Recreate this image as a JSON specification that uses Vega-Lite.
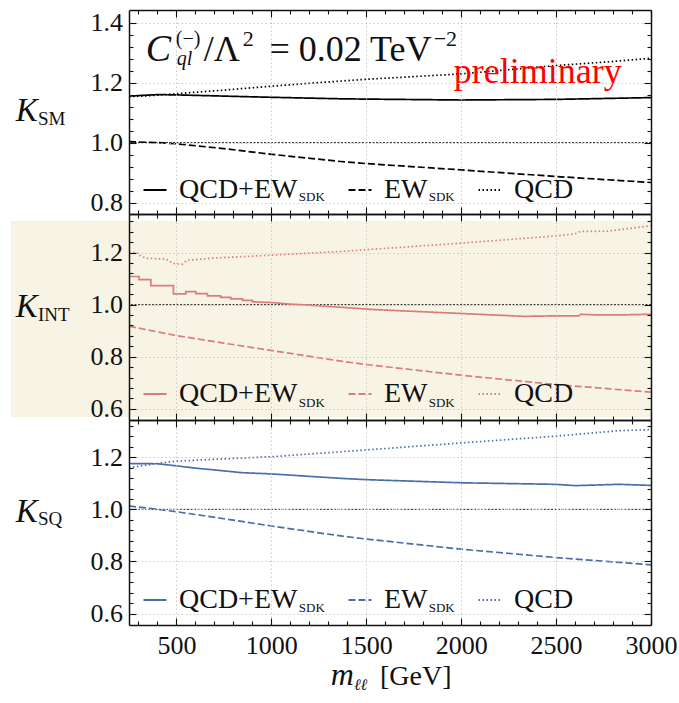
{
  "$schema": "https://vega.github.io/schema/vega-lite/v6.json",
  "background": "white",
  "padding": {"left": 10, "top": 9, "right": 2, "bottom": 5},
  "config": {"view": {"stroke": null}, "font": "Liberation Serif, Times New Roman, serif", "text": {"font": "Liberation Serif, Times New Roman, serif"}},
  "datasets": {
    "sm": [
      {"m": 250, "K": 1.155, "s": "QCD+EW"}, {"m": 400, "K": 1.16, "s": "QCD+EW"}, {"m": 500, "K": 1.159, "s": "QCD+EW"}, {"m": 750, "K": 1.155, "s": "QCD+EW"}, {"m": 1000, "K": 1.151, "s": "QCD+EW"}, {"m": 1365, "K": 1.146, "s": "QCD+EW"}, {"m": 1500, "K": 1.145, "s": "QCD+EW"}, {"m": 2000, "K": 1.142, "s": "QCD+EW"}, {"m": 2500, "K": 1.144, "s": "QCD+EW"}, {"m": 3000, "K": 1.15, "s": "QCD+EW"},
      {"m": 250, "K": 1.003, "s": "EW"}, {"m": 400, "K": 1.0, "s": "EW"}, {"m": 500, "K": 0.996, "s": "EW"}, {"m": 750, "K": 0.98, "s": "EW"}, {"m": 1000, "K": 0.961, "s": "EW"}, {"m": 1365, "K": 0.937, "s": "EW"}, {"m": 1500, "K": 0.93, "s": "EW"}, {"m": 2000, "K": 0.909, "s": "EW"}, {"m": 2500, "K": 0.887, "s": "EW"}, {"m": 3000, "K": 0.867, "s": "EW"},
      {"m": 250, "K": 1.153, "s": "QCD"}, {"m": 400, "K": 1.158, "s": "QCD"}, {"m": 500, "K": 1.163, "s": "QCD"}, {"m": 750, "K": 1.175, "s": "QCD"}, {"m": 1000, "K": 1.188, "s": "QCD"}, {"m": 1250, "K": 1.2, "s": "QCD"}, {"m": 1500, "K": 1.211, "s": "QCD"}, {"m": 2000, "K": 1.229, "s": "QCD"}, {"m": 2500, "K": 1.257, "s": "QCD"}, {"m": 2750, "K": 1.268, "s": "QCD"}, {"m": 3000, "K": 1.281, "s": "QCD"}
    ],
    "int": [
      {"m": 250, "K": 1.108, "s": "QCD+EW"}, {"m": 303, "K": 1.108, "s": "QCD+EW"}, {"m": 303, "K": 1.096, "s": "QCD+EW"}, {"m": 365, "K": 1.096, "s": "QCD+EW"}, {"m": 365, "K": 1.073, "s": "QCD+EW"}, {"m": 484, "K": 1.073, "s": "QCD+EW"}, {"m": 484, "K": 1.041, "s": "QCD+EW"}, {"m": 549, "K": 1.041, "s": "QCD+EW"}, {"m": 549, "K": 1.05, "s": "QCD+EW"}, {"m": 602, "K": 1.05, "s": "QCD+EW"}, {"m": 602, "K": 1.042, "s": "QCD+EW"}, {"m": 663, "K": 1.042, "s": "QCD+EW"}, {"m": 663, "K": 1.034, "s": "QCD+EW"}, {"m": 733, "K": 1.034, "s": "QCD+EW"}, {"m": 733, "K": 1.028, "s": "QCD+EW"}, {"m": 786, "K": 1.028, "s": "QCD+EW"}, {"m": 786, "K": 1.022, "s": "QCD+EW"}, {"m": 848, "K": 1.022, "s": "QCD+EW"}, {"m": 848, "K": 1.016, "s": "QCD+EW"}, {"m": 900, "K": 1.016, "s": "QCD+EW"}, {"m": 900, "K": 1.011, "s": "QCD+EW"}, {"m": 1000, "K": 1.008, "s": "QCD+EW"}, {"m": 1100, "K": 1.002, "s": "QCD+EW"}, {"m": 1154, "K": 1.0, "s": "QCD+EW"}, {"m": 1365, "K": 0.99, "s": "QCD+EW"}, {"m": 1540, "K": 0.981, "s": "QCD+EW"}, {"m": 2000, "K": 0.966, "s": "QCD+EW"}, {"m": 2330, "K": 0.955, "s": "QCD+EW"}, {"m": 2500, "K": 0.957, "s": "QCD+EW"}, {"m": 2620, "K": 0.957, "s": "QCD+EW"}, {"m": 2628, "K": 0.963, "s": "QCD+EW"}, {"m": 2700, "K": 0.961, "s": "QCD+EW"}, {"m": 2875, "K": 0.961, "s": "QCD+EW"}, {"m": 3000, "K": 0.963, "s": "QCD+EW"},
      {"m": 250, "K": 0.917, "s": "EW"}, {"m": 500, "K": 0.881, "s": "EW"}, {"m": 750, "K": 0.852, "s": "EW"}, {"m": 1000, "K": 0.824, "s": "EW"}, {"m": 1365, "K": 0.783, "s": "EW"}, {"m": 1500, "K": 0.77, "s": "EW"}, {"m": 2000, "K": 0.729, "s": "EW"}, {"m": 2500, "K": 0.693, "s": "EW"}, {"m": 3000, "K": 0.664, "s": "EW"},
      {"m": 250, "K": 1.2, "s": "QCD"}, {"m": 300, "K": 1.198, "s": "QCD"}, {"m": 303, "K": 1.19, "s": "QCD"}, {"m": 340, "K": 1.178, "s": "QCD"}, {"m": 445, "K": 1.175, "s": "QCD"}, {"m": 484, "K": 1.158, "s": "QCD"}, {"m": 530, "K": 1.155, "s": "QCD"}, {"m": 555, "K": 1.17, "s": "QCD"}, {"m": 700, "K": 1.179, "s": "QCD"}, {"m": 1000, "K": 1.19, "s": "QCD"}, {"m": 1365, "K": 1.204, "s": "QCD"}, {"m": 1540, "K": 1.213, "s": "QCD"}, {"m": 2000, "K": 1.236, "s": "QCD"}, {"m": 2500, "K": 1.264, "s": "QCD"}, {"m": 2600, "K": 1.272, "s": "QCD"}, {"m": 2628, "K": 1.281, "s": "QCD"}, {"m": 2770, "K": 1.282, "s": "QCD"}, {"m": 3000, "K": 1.303, "s": "QCD"}
    ],
    "sq": [
      {"m": 250, "K": 1.176, "s": "QCD+EW"}, {"m": 400, "K": 1.175, "s": "QCD+EW"}, {"m": 500, "K": 1.167, "s": "QCD+EW"}, {"m": 602, "K": 1.158, "s": "QCD+EW"}, {"m": 733, "K": 1.149, "s": "QCD+EW"}, {"m": 840, "K": 1.141, "s": "QCD+EW"}, {"m": 1000, "K": 1.136, "s": "QCD+EW"}, {"m": 1365, "K": 1.119, "s": "QCD+EW"}, {"m": 1500, "K": 1.114, "s": "QCD+EW"}, {"m": 2000, "K": 1.102, "s": "QCD+EW"}, {"m": 2500, "K": 1.096, "s": "QCD+EW"}, {"m": 2600, "K": 1.091, "s": "QCD+EW"}, {"m": 2830, "K": 1.096, "s": "QCD+EW"}, {"m": 3000, "K": 1.092, "s": "QCD+EW"},
      {"m": 250, "K": 1.013, "s": "EW"}, {"m": 400, "K": 1.0, "s": "EW"}, {"m": 500, "K": 0.991, "s": "EW"}, {"m": 750, "K": 0.964, "s": "EW"}, {"m": 1000, "K": 0.936, "s": "EW"}, {"m": 1365, "K": 0.898, "s": "EW"}, {"m": 1500, "K": 0.886, "s": "EW"}, {"m": 2000, "K": 0.847, "s": "EW"}, {"m": 2500, "K": 0.815, "s": "EW"}, {"m": 3000, "K": 0.787, "s": "EW"},
      {"m": 250, "K": 1.16, "s": "QCD"}, {"m": 400, "K": 1.176, "s": "QCD"}, {"m": 500, "K": 1.185, "s": "QCD"}, {"m": 750, "K": 1.194, "s": "QCD"}, {"m": 1000, "K": 1.202, "s": "QCD"}, {"m": 1365, "K": 1.221, "s": "QCD"}, {"m": 1500, "K": 1.228, "s": "QCD"}, {"m": 2000, "K": 1.255, "s": "QCD"}, {"m": 2500, "K": 1.281, "s": "QCD"}, {"m": 2830, "K": 1.302, "s": "QCD"}, {"m": 3000, "K": 1.306, "s": "QCD"}
    ]
  },
  "vconcat": [
    {
      "width": 522, "height": 204,
      "data": {"values": [{}]},
      "resolve": {"axis": {"x": "independent", "y": "independent"}},
      "layer": [
        {"mark": {"type": "rule", "color": "#111", "strokeWidth": 0.9, "strokeDash": [2, 1.5]},
         "encoding": {"y": {"datum": 1, "type": "quantitative", "scale": {"domain": [0.762, 1.442]}, "axis": null}}},
        {"data": {"name": "sm"},
         "mark": {"type": "line", "color": "#000000", "strokeWidth": 1.7},
         "encoding": {
           "x": {"field": "m", "type": "quantitative", "scale": {"domain": [250, 3000]},
             "axis": {"orient": "bottom", "values": [300,400,500,600,700,800,900,1000,1100,1200,1300,1400,1500,1600,1700,1800,1900,2000,2100,2200,2300,2400,2500,2600,2700,2800,2900,3000], "format": "d", "zindex": 1, "title": null, "domainColor": "#111", "domainWidth": 1.5, "tickColor": "#111", "tickWidth": 1.1, "tickSize": {"condition": {"test": "datum.value % 500 === 0", "value": -7}, "value": -4}, "grid": true, "gridColor": "#c4c4c4", "gridDash": [1.5, 2.5], "gridWidth": 0.9, "gridOpacity": {"condition": {"test": "datum.value % 500 === 0", "value": 1}, "value": 0}, "labels": false}},
           "y": {"field": "K", "type": "quantitative", "scale": {"domain": [0.762, 1.442]},
             "axis": {"orient": "left", "values": [0.8,0.84,0.88,0.92,0.96,1,1.04,1.08,1.12,1.16,1.2,1.24,1.28,1.32,1.36,1.4], "format": ".1f", "zindex": 1, "title": null, "domainColor": "#111", "domainWidth": 1.5, "tickColor": "#111", "tickWidth": 1.1, "tickSize": {"condition": {"test": "abs(datum.value*5-round(datum.value*5))<0.001", "value": -7}, "value": -4}, "grid": true, "gridColor": "#c4c4c4", "gridDash": [1.5, 2.5], "gridWidth": 0.9, "gridOpacity": {"condition": {"test": "abs(datum.value*5-round(datum.value*5))<0.001", "value": 1}, "value": 0}, "labelExpr": "abs(datum.value*5-round(datum.value*5))<0.001 ? datum.label : ''", "labelFont": "Liberation Serif, Times New Roman, serif", "labelFontSize": 26, "labelColor": "#111", "labelPadding": 13.5, "labelOverlap": false}},
           "strokeDash": {"field": "s", "type": "nominal", "scale": {"domain": ["QCD+EW", "EW", "QCD"], "range": [[1, 0], [7, 3], [1.5, 2.5]]},
             "legend": {"orient": "none", "legendX": 12, "legendY": 166, "direction": "horizontal", "title": null, "padding": 0, "symbolType": "stroke", "symbolSize": 529, "symbolStrokeWidth": 1.8, "symbolStrokeColor": "#000000", "labelFont": "Liberation Serif, Times New Roman, serif", "labelFontSize": 28, "labelColor": "#111", "labelOffset": 10, "columnPadding": 46}},
           "order": {"value": null}
         }},
        {"mark": {"type": "text", "text": "K", "fontStyle": "italic", "fontSize": 33, "align": "left", "baseline": "alphabetic", "color": "#111"},
         "encoding": {
           "x": {"datum": -346, "type": "quantitative", "scale": {"domain": [250, 3000]},
             "axis": {"orient": "top", "values": [300,400,500,600,700,800,900,1000,1100,1200,1300,1400,1500,1600,1700,1800,1900,2000,2100,2200,2300,2400,2500,2600,2700,2800,2900,3000], "zindex": 1, "title": null, "domainColor": "#111", "domainWidth": 1.5, "tickColor": "#111", "tickWidth": 1.1, "tickSize": {"condition": {"test": "datum.value % 500 === 0", "value": -7}, "value": -4}, "grid": false, "labels": false}},
           "y": {"datum": 1.072, "type": "quantitative", "scale": {"domain": [0.762, 1.442]},
             "axis": {"orient": "right", "values": [0.8,0.84,0.88,0.92,0.96,1,1.04,1.08,1.12,1.16,1.2,1.24,1.28,1.32,1.36,1.4], "zindex": 1, "title": null, "domainColor": "#111", "domainWidth": 1.5, "tickColor": "#111", "tickWidth": 1.1, "tickSize": {"condition": {"test": "abs(datum.value*5-round(datum.value*5))<0.001", "value": -7}, "value": -4}, "grid": false, "labels": false}}
         }},
        {"mark": {"type": "text", "text": "SM", "fontSize": 19, "align": "left", "baseline": "alphabetic", "color": "#111"},
         "encoding": {"x": {"datum": -230, "type": "quantitative", "scale": {"domain": [250, 3000]}, "axis": null}, "y": {"datum": 1.0587, "type": "quantitative", "scale": {"domain": [0.762, 1.442]}, "axis": null}}},
        {"mark": {"type": "text", "text": "C", "fontStyle": "italic", "fontSize": 38, "align": "left", "baseline": "alphabetic", "color": "#111"},
         "encoding": {"x": {"datum": 338.5, "type": "quantitative", "scale": {"domain": [250, 3000]}, "axis": null}, "y": {"datum": 1.273, "type": "quantitative", "scale": {"domain": [0.762, 1.442]}, "axis": null}}},
        {"mark": {"type": "text", "text": "(−)", "fontSize": 20, "align": "left", "baseline": "alphabetic", "color": "#111"},
         "encoding": {"x": {"datum": 496.5, "type": "quantitative", "scale": {"domain": [250, 3000]}, "axis": null}, "y": {"datum": 1.3253, "type": "quantitative", "scale": {"domain": [0.762, 1.442]}, "axis": null}}},
        {"mark": {"type": "text", "text": "ql", "fontStyle": "italic", "fontSize": 20, "align": "left", "baseline": "alphabetic", "color": "#111"},
         "encoding": {"x": {"datum": 501.8, "type": "quantitative", "scale": {"domain": [250, 3000]}, "axis": null}, "y": {"datum": 1.2587, "type": "quantitative", "scale": {"domain": [0.762, 1.442]}, "axis": null}}},
        {"mark": {"type": "text", "text": "/Λ", "fontSize": 36, "align": "left", "baseline": "alphabetic", "color": "#111"},
         "encoding": {"x": {"datum": 644, "type": "quantitative", "scale": {"domain": [250, 3000]}, "axis": null}, "y": {"datum": 1.273, "type": "quantitative", "scale": {"domain": [0.762, 1.442]}, "axis": null}}},
        {"mark": {"type": "text", "text": "2", "fontSize": 22, "align": "left", "baseline": "alphabetic", "color": "#111"},
         "encoding": {"x": {"datum": 849.5, "type": "quantitative", "scale": {"domain": [250, 3000]}, "axis": null}, "y": {"datum": 1.322, "type": "quantitative", "scale": {"domain": [0.762, 1.442]}, "axis": null}}},
        {"mark": {"type": "text", "text": "= 0.02 TeV", "fontSize": 36, "align": "left", "baseline": "alphabetic", "color": "#111"},
         "encoding": {"x": {"datum": 990, "type": "quantitative", "scale": {"domain": [250, 3000]}, "axis": null}, "y": {"datum": 1.273, "type": "quantitative", "scale": {"domain": [0.762, 1.442]}, "axis": null}}},
        {"mark": {"type": "text", "text": "−2", "fontSize": 22, "align": "left", "baseline": "alphabetic", "color": "#111"},
         "encoding": {"x": {"datum": 1855, "type": "quantitative", "scale": {"domain": [250, 3000]}, "axis": null}, "y": {"datum": 1.322, "type": "quantitative", "scale": {"domain": [0.762, 1.442]}, "axis": null}}},
        {"mark": {"type": "text", "text": "preliminary", "fontSize": 36, "align": "left", "baseline": "alphabetic", "color": "#ff0000"},
         "encoding": {"x": {"datum": 1961, "type": "quantitative", "scale": {"domain": [250, 3000]}, "axis": null}, "y": {"datum": 1.1977, "type": "quantitative", "scale": {"domain": [0.762, 1.442]}, "axis": null}}},
        {"mark": {"type": "text", "text": "SDK", "fontSize": 13, "align": "left", "baseline": "alphabetic", "color": "#111"},
         "encoding": {"x": {"datum": 1144.5, "type": "quantitative", "scale": {"domain": [250, 3000]}, "axis": null}, "y": {"datum": 0.8053, "type": "quantitative", "scale": {"domain": [0.762, 1.442]}, "axis": null}}},
        {"mark": {"type": "text", "text": "SDK", "fontSize": 13, "align": "left", "baseline": "alphabetic", "color": "#111"},
         "encoding": {"x": {"datum": 1829, "type": "quantitative", "scale": {"domain": [250, 3000]}, "axis": null}, "y": {"datum": 0.8053, "type": "quantitative", "scale": {"domain": [0.762, 1.442]}, "axis": null}}}
      ]
    },
    {
      "width": 522, "height": 206,
      "data": {"values": [{}]},
      "resolve": {"axis": {"x": "independent", "y": "independent"}},
      "layer": [
        {"mark": {"type": "rect", "color": "#f7f4e6"},
         "encoding": {"x": {"datum": -372, "type": "quantitative", "scale": {"domain": [250, 3000]}, "axis": null}, "x2": {"datum": 3000}, "y": {"datum": 0.5685, "type": "quantitative", "scale": {"domain": [0.557, 1.348]}, "axis": null}, "y2": {"datum": 1.321}}},
        {"mark": {"type": "rule", "color": "#111", "strokeWidth": 0.9, "strokeDash": [2, 1.5]},
         "encoding": {"y": {"datum": 1, "type": "quantitative", "scale": {"domain": [0.557, 1.348]}, "axis": null}}},
        {"data": {"name": "int"},
         "mark": {"type": "line", "color": "#db7c7c", "strokeWidth": 1.7},
         "encoding": {
           "x": {"field": "m", "type": "quantitative", "scale": {"domain": [250, 3000]},
             "axis": {"orient": "bottom", "values": [300,400,500,600,700,800,900,1000,1100,1200,1300,1400,1500,1600,1700,1800,1900,2000,2100,2200,2300,2400,2500,2600,2700,2800,2900,3000], "format": "d", "zindex": 1, "title": null, "domainColor": "#111", "domainWidth": 1.5, "tickColor": "#111", "tickWidth": 1.1, "tickSize": {"condition": {"test": "datum.value % 500 === 0", "value": -7}, "value": -4}, "grid": true, "gridColor": "#c4c4c4", "gridDash": [1.5, 2.5], "gridWidth": 0.9, "gridOpacity": {"condition": {"test": "datum.value % 500 === 0", "value": 1}, "value": 0}, "labels": false}},
           "y": {"field": "K", "type": "quantitative", "scale": {"domain": [0.557, 1.348]},
             "axis": {"orient": "left", "values": [0.6,0.64,0.68,0.72,0.76,0.8,0.84,0.88,0.92,0.96,1,1.04,1.08,1.12,1.16,1.2,1.24,1.28,1.32], "format": ".1f", "zindex": 1, "title": null, "domainColor": "#111", "domainWidth": 1.5, "tickColor": "#111", "tickWidth": 1.1, "tickSize": {"condition": {"test": "abs(datum.value*5-round(datum.value*5))<0.001", "value": -7}, "value": -4}, "grid": true, "gridColor": "#c4c4c4", "gridDash": [1.5, 2.5], "gridWidth": 0.9, "gridOpacity": {"condition": {"test": "abs(datum.value*5-round(datum.value*5))<0.001", "value": 1}, "value": 0}, "labelExpr": "abs(datum.value*5-round(datum.value*5))<0.001 ? datum.label : ''", "labelFont": "Liberation Serif, Times New Roman, serif", "labelFontSize": 26, "labelColor": "#111", "labelPadding": 13.5, "labelOverlap": false}},
           "strokeDash": {"field": "s", "type": "nominal", "scale": {"domain": ["QCD+EW", "EW", "QCD"], "range": [[1, 0], [7, 3], [1.5, 2.5]]},
             "legend": {"orient": "none", "legendX": 12, "legendY": 166, "direction": "horizontal", "title": null, "padding": 0, "symbolType": "stroke", "symbolSize": 529, "symbolStrokeWidth": 1.8, "symbolStrokeColor": "#db7c7c", "labelFont": "Liberation Serif, Times New Roman, serif", "labelFontSize": 28, "labelColor": "#111", "labelOffset": 10, "columnPadding": 46}},
           "order": {"value": null}
         }},
        {"mark": {"type": "text", "text": "K", "fontStyle": "italic", "fontSize": 33, "align": "left", "baseline": "alphabetic", "color": "#111"},
         "encoding": {
           "x": {"datum": -346, "type": "quantitative", "scale": {"domain": [250, 3000]},
             "axis": {"orient": "top", "values": [300,400,500,600,700,800,900,1000,1100,1200,1300,1400,1500,1600,1700,1800,1900,2000,2100,2200,2300,2400,2500,2600,2700,2800,2900,3000], "zindex": 1, "title": null, "domainColor": "#111", "domainWidth": 1.5, "tickColor": "#111", "tickWidth": 1.1, "tickSize": {"condition": {"test": "datum.value % 500 === 0", "value": -7}, "value": -4}, "grid": false, "labels": false}},
           "y": {"datum": 0.9525, "type": "quantitative", "scale": {"domain": [0.557, 1.348]},
             "axis": {"orient": "right", "values": [0.6,0.64,0.68,0.72,0.76,0.8,0.84,0.88,0.92,0.96,1,1.04,1.08,1.12,1.16,1.2,1.24,1.28,1.32], "zindex": 1, "title": null, "domainColor": "#111", "domainWidth": 1.5, "tickColor": "#111", "tickWidth": 1.1, "tickSize": {"condition": {"test": "abs(datum.value*5-round(datum.value*5))<0.001", "value": -7}, "value": -4}, "grid": false, "labels": false}}
         }},
        {"mark": {"type": "text", "text": "INT", "fontSize": 19, "align": "left", "baseline": "alphabetic", "color": "#111"},
         "encoding": {"x": {"datum": -230, "type": "quantitative", "scale": {"domain": [250, 3000]}, "axis": null}, "y": {"datum": 0.937, "type": "quantitative", "scale": {"domain": [0.557, 1.348]}, "axis": null}}},
        {"mark": {"type": "text", "text": "SDK", "fontSize": 13, "align": "left", "baseline": "alphabetic", "color": "#111"},
         "encoding": {"x": {"datum": 1144.5, "type": "quantitative", "scale": {"domain": [250, 3000]}, "axis": null}, "y": {"datum": 0.607, "type": "quantitative", "scale": {"domain": [0.557, 1.348]}, "axis": null}}},
        {"mark": {"type": "text", "text": "SDK", "fontSize": 13, "align": "left", "baseline": "alphabetic", "color": "#111"},
         "encoding": {"x": {"datum": 1829, "type": "quantitative", "scale": {"domain": [250, 3000]}, "axis": null}, "y": {"datum": 0.607, "type": "quantitative", "scale": {"domain": [0.557, 1.348]}, "axis": null}}}
      ]
    },
    {
      "width": 522, "height": 205,
      "data": {"values": [{}]},
      "resolve": {"axis": {"x": "independent", "y": "independent"}},
      "layer": [
        {"mark": {"type": "rule", "color": "#111", "strokeWidth": 0.9, "strokeDash": [2, 1.5]},
         "encoding": {"y": {"datum": 1, "type": "quantitative", "scale": {"domain": [0.556, 1.343]}, "axis": null}}},
        {"data": {"name": "sq"},
         "mark": {"type": "line", "color": "#4a6fa8", "strokeWidth": 1.7},
         "encoding": {
           "x": {"field": "m", "type": "quantitative", "scale": {"domain": [250, 3000]},
             "axis": {"orient": "bottom", "values": [300,400,500,600,700,800,900,1000,1100,1200,1300,1400,1500,1600,1700,1800,1900,2000,2100,2200,2300,2400,2500,2600,2700,2800,2900,3000], "format": "d", "zindex": 1, "title": null, "domainColor": "#111", "domainWidth": 1.5, "tickColor": "#111", "tickWidth": 1.1, "tickSize": {"condition": {"test": "datum.value % 500 === 0", "value": -7}, "value": -4}, "grid": true, "gridColor": "#c4c4c4", "gridDash": [1.5, 2.5], "gridWidth": 0.9, "gridOpacity": {"condition": {"test": "datum.value % 500 === 0", "value": 1}, "value": 0}, "labels": true, "labelExpr": "datum.value % 500 === 0 ? datum.label : ''", "labelFont": "Liberation Serif, Times New Roman, serif", "labelFontSize": 26, "labelColor": "#111", "labelPadding": 14, "labelFlush": false, "labelOverlap": false}},
           "y": {"field": "K", "type": "quantitative", "scale": {"domain": [0.556, 1.343]},
             "axis": {"orient": "left", "values": [0.6,0.64,0.68,0.72,0.76,0.8,0.84,0.88,0.92,0.96,1,1.04,1.08,1.12,1.16,1.2,1.24,1.28,1.32], "format": ".1f", "zindex": 1, "title": null, "domainColor": "#111", "domainWidth": 1.5, "tickColor": "#111", "tickWidth": 1.1, "tickSize": {"condition": {"test": "abs(datum.value*5-round(datum.value*5))<0.001", "value": -7}, "value": -4}, "grid": true, "gridColor": "#c4c4c4", "gridDash": [1.5, 2.5], "gridWidth": 0.9, "gridOpacity": {"condition": {"test": "abs(datum.value*5-round(datum.value*5))<0.001", "value": 1}, "value": 0}, "labelExpr": "abs(datum.value*5-round(datum.value*5))<0.001 ? datum.label : ''", "labelFont": "Liberation Serif, Times New Roman, serif", "labelFontSize": 26, "labelColor": "#111", "labelPadding": 13.5, "labelOverlap": false}},
           "strokeDash": {"field": "s", "type": "nominal", "scale": {"domain": ["QCD+EW", "EW", "QCD"], "range": [[1, 0], [7, 3], [1.5, 2.5]]},
             "legend": {"orient": "none", "legendX": 12, "legendY": 166, "direction": "horizontal", "title": null, "padding": 0, "symbolType": "stroke", "symbolSize": 529, "symbolStrokeWidth": 1.8, "symbolStrokeColor": "#4a6fa8", "labelFont": "Liberation Serif, Times New Roman, serif", "labelFontSize": 28, "labelColor": "#111", "labelOffset": 10, "columnPadding": 46}},
           "order": {"value": null}
         }},
        {"mark": {"type": "text", "text": "K", "fontStyle": "italic", "fontSize": 33, "align": "left", "baseline": "alphabetic", "color": "#111"},
         "encoding": {
           "x": {"datum": -346, "type": "quantitative", "scale": {"domain": [250, 3000]},
             "axis": {"orient": "top", "values": [300,400,500,600,700,800,900,1000,1100,1200,1300,1400,1500,1600,1700,1800,1900,2000,2100,2200,2300,2400,2500,2600,2700,2800,2900,3000], "zindex": 1, "title": null, "domainColor": "#111", "domainWidth": 1.5, "tickColor": "#111", "tickWidth": 1.1, "tickSize": {"condition": {"test": "datum.value % 500 === 0", "value": -7}, "value": -4}, "grid": false, "labels": false}},
           "y": {"datum": 0.9526, "type": "quantitative", "scale": {"domain": [0.556, 1.343]},
             "axis": {"orient": "right", "values": [0.6,0.64,0.68,0.72,0.76,0.8,0.84,0.88,0.92,0.96,1,1.04,1.08,1.12,1.16,1.2,1.24,1.28,1.32], "zindex": 1, "title": null, "domainColor": "#111", "domainWidth": 1.5, "tickColor": "#111", "tickWidth": 1.1, "tickSize": {"condition": {"test": "abs(datum.value*5-round(datum.value*5))<0.001", "value": -7}, "value": -4}, "grid": false, "labels": false}}
         }},
        {"mark": {"type": "text", "text": "SQ", "fontSize": 19, "align": "left", "baseline": "alphabetic", "color": "#111"},
         "encoding": {"x": {"datum": -230, "type": "quantitative", "scale": {"domain": [250, 3000]}, "axis": null}, "y": {"datum": 0.94, "type": "quantitative", "scale": {"domain": [0.556, 1.343]}, "axis": null}}},
        {"mark": {"type": "text", "text": "SDK", "fontSize": 13, "align": "left", "baseline": "alphabetic", "color": "#111"},
         "encoding": {"x": {"datum": 1144.5, "type": "quantitative", "scale": {"domain": [250, 3000]}, "axis": null}, "y": {"datum": 0.606, "type": "quantitative", "scale": {"domain": [0.556, 1.343]}, "axis": null}}},
        {"mark": {"type": "text", "text": "SDK", "fontSize": 13, "align": "left", "baseline": "alphabetic", "color": "#111"},
         "encoding": {"x": {"datum": 1829, "type": "quantitative", "scale": {"domain": [250, 3000]}, "axis": null}, "y": {"datum": 0.606, "type": "quantitative", "scale": {"domain": [0.556, 1.343]}, "axis": null}}},
        {"mark": {"type": "text", "text": "m", "fontStyle": "italic", "fontSize": 32, "align": "left", "baseline": "alphabetic", "color": "#111"},
         "encoding": {"x": {"datum": 1313, "type": "quantitative", "scale": {"domain": [250, 3000]}, "axis": null}, "y": {"datum": 0.3257, "type": "quantitative", "scale": {"domain": [0.556, 1.343]}, "axis": null}}},
        {"mark": {"type": "text", "text": "ℓℓ", "fontStyle": "italic", "fontSize": 16, "align": "left", "baseline": "alphabetic", "color": "#111"},
         "encoding": {"x": {"datum": 1435, "type": "quantitative", "scale": {"domain": [250, 3000]}, "axis": null}, "y": {"datum": 0.3065, "type": "quantitative", "scale": {"domain": [0.556, 1.343]}, "axis": null}}},
        {"mark": {"type": "text", "text": "[GeV]", "fontSize": 28, "align": "left", "baseline": "alphabetic", "color": "#111"},
         "encoding": {"x": {"datum": 1572, "type": "quantitative", "scale": {"domain": [250, 3000]}, "axis": null}, "y": {"datum": 0.3257, "type": "quantitative", "scale": {"domain": [0.556, 1.343]}, "axis": null}}}
      ]
    }
  ],
  "spacing": 0,
  "bounds": "flush",
  "resolve": {"scale": {"strokeDash": "independent"}, "legend": {"strokeDash": "independent"}}
}
